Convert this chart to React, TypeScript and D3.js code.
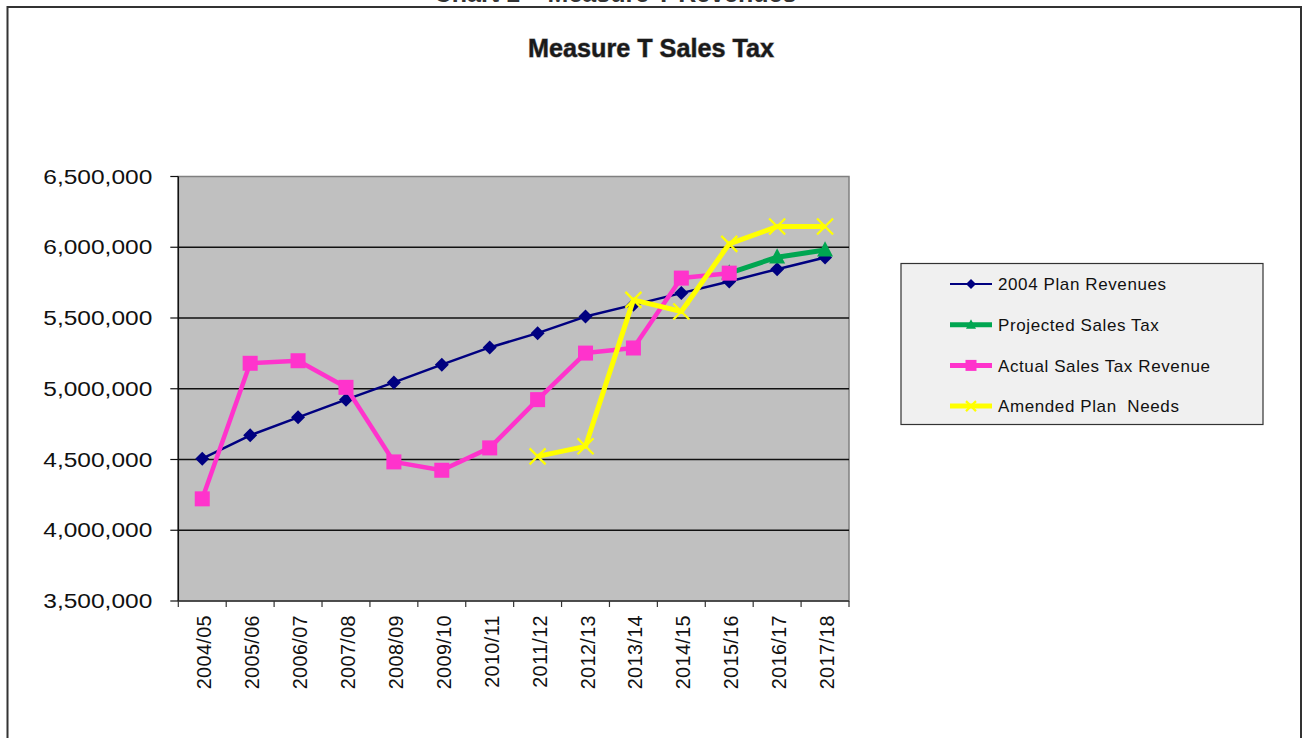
import * as d3 from "d3";

const categories = [
  "2004/05", "2005/06", "2006/07", "2007/08", "2008/09", "2009/10", "2010/11",
  "2011/12", "2012/13", "2013/14", "2014/15", "2015/16", "2016/17", "2017/18",
];

const planRevenues = [
  4506000, 4671000, 4798000, 4923000, 5045000, 5170000, 5292000,
  5393000, 5510000, 5593000, 5676000, 5758000, 5845000, 5927000,
];

const projectedSalesTax: (number | null)[] = [
  null, null, null, null, null, null, null,
  null, null, null, null, 5817000, 5930000, 5980000,
];

const actualRevenue: (number | null)[] = [
  4222000, 5180000, 5198000, 5010000, 4483000, 4424000, 4582000,
  4923000, 5252000, 5288000, 5782000, 5817000, null, null,
];

const amendedNeeds: (number | null)[] = [
  null, null, null, null, null, null, null,
  4522000, 4593000, 5628000, 5546000, 6024000, 6146000, 6146000,
];

const yTicks = [3500000, 4000000, 4500000, 5000000, 5500000, 6000000, 6500000];

const legendItems = [
  { label: "2004 Plan Revenues", color: "#000080", width: 2, marker: "diamond" },
  { label: "Projected Sales Tax", color: "#00a651", width: 5, marker: "triangle" },
  { label: "Actual Sales Tax Revenue", color: "#ff33cc", width: 5, marker: "square" },
  { label: "Amended Plan  Needs", color: "#ffff00", width: 5, marker: "x" },
];

const W = 1304;
const H = 738;
const plot = { left: 178.3, right: 849, top: 176.5, bottom: 601 };

function Marker({ kind, x, y, s, color }: { kind: string; x: number; y: number; s: number; color: string }) {
  if (kind === "diamond") {
    return <path d={`M${x},${y - s}L${x + s},${y}L${x},${y + s}L${x - s},${y}Z`} fill={color} />;
  }
  if (kind === "square") {
    return <rect x={x - s} y={y - s} width={s * 2} height={s * 2} fill={color} />;
  }
  if (kind === "triangle") {
    return <path d={`M${x},${y - s * 1.1}L${x + s},${y + s * 0.8}L${x - s},${y + s * 0.8}Z`} fill={color} />;
  }
  return (
    <path
      d={`M${x - s},${y - s}L${x + s},${y + s}M${x - s},${y + s}L${x + s},${y - s}`}
      stroke={color}
      strokeWidth={2.2}
      fill="none"
    />
  );
}

export default function App() {
  const x = d3.scaleBand<string>().domain(categories).range([plot.left, plot.right]);
  const y = d3.scaleLinear().domain([3500000, 6500000]).range([plot.bottom, plot.top]);
  const cx = (c: string) => (x(c) ?? 0) + x.bandwidth() / 2;

  const line = d3
    .line<number | null>()
    .defined((d) => d != null)
    .x((_, i) => cx(categories[i]))
    .y((d) => y(d as number));

  const series = [
    { values: planRevenues as (number | null)[], color: "#000080", width: 2.5, marker: "diamond", size: 7 },
    { values: projectedSalesTax, color: "#00a651", width: 5, marker: "triangle", size: 8 },
    { values: actualRevenue, color: "#ff33cc", width: 4.5, marker: "square", size: 7.5 },
    { values: amendedNeeds, color: "#ffff00", width: 5, marker: "x", size: 8 },
  ];

  const font = "Arial, 'Liberation Sans', sans-serif";
  const boundaries = d3.range(categories.length + 1).map((i) => plot.left + i * x.bandwidth());

  return (
    <div style={{ position: "fixed", left: 0, top: 0, width: W, height: H, background: "#fff" }}>
      <svg width={W} height={H} style={{ display: "block" }} fontFamily={font}>
        {/* outer frame and the heading above it, cut off by the page edge */}
        <text x={615} y={2.2} textAnchor="middle" fontSize={25} fontWeight="bold" fill="#333">
          Chart 1 – Measure T Revenues
        </text>
        <rect x={7.5} y={7} width={1293.5} height={760} fill="#fff" stroke="#333" strokeWidth={2} />

        <text
          x={651}
          y={57}
          textAnchor="middle"
          fontSize={25.2}
          fontWeight="bold"
          fill="#1a1a1a"
          stroke="#8a8a8a"
          strokeWidth={0.9}
          paintOrder="stroke"
        >
          Measure T Sales Tax
        </text>

        {/* plot area */}
        <rect
          x={plot.left}
          y={plot.top}
          width={plot.right - plot.left}
          height={plot.bottom - plot.top}
          fill="#c0c0c0"
          stroke="#808080"
          strokeWidth={1.5}
        />
        {yTicks.map((t) => (
          <g key={t}>
            {t > 3500000 && t < 6500000 && (
              <line x1={plot.left} x2={plot.right} y1={y(t)} y2={y(t)} stroke="#111" strokeWidth={1.5} />
            )}
            <line x1={plot.left - 8} x2={plot.left} y1={y(t)} y2={y(t)} stroke="#111" strokeWidth={1.2} />
            <text
              x={plot.left - 135}
              y={y(t)}
              dy="0.36em"
              fontSize={20}
              fill="#111"
              textLength={109}
              lengthAdjust="spacingAndGlyphs"
            >
              {d3.format(",")(t)}
            </text>
          </g>
        ))}
        <line x1={plot.left} x2={plot.left} y1={plot.top} y2={plot.bottom} stroke="#111" strokeWidth={1.5} />
        <line x1={plot.left} x2={plot.right} y1={plot.bottom} y2={plot.bottom} stroke="#333" strokeWidth={1.5} />
        {boundaries.map((b, i) => (
          <line key={i} x1={b} x2={b} y1={plot.bottom} y2={plot.bottom + 6} stroke="#333" strokeWidth={1.2} />
        ))}
        {categories.map((c) => (
          <text
            key={c}
            transform={`translate(${cx(c) + 2},615) rotate(-90)`}
            textAnchor="end"
            dominantBaseline="central"
            fontSize={19.8}
            letterSpacing={0.4}
            fill="#111"
          >
            {c}
          </text>
        ))}

        {/* series */}
        {series.map((s, si) => (
          <g key={si}>
            <path d={line(s.values) ?? ""} fill="none" stroke={s.color} strokeWidth={s.width} strokeLinejoin="round" />
            {s.values.map((v, i) =>
              v == null ? null : (
                <Marker key={i} kind={s.marker} x={cx(categories[i])} y={y(v)} s={s.size} color={s.color} />
              )
            )}
          </g>
        ))}

        {/* legend */}
        <rect x={901} y={263.5} width={362} height={161} fill="#f0f0f0" stroke="#333" strokeWidth={1.2} />
        {legendItems.map((it, i) => {
          const ly = 284 + i * 40.7;
          return (
            <g key={it.label}>
              <line x1={950} x2={992} y1={ly} y2={ly} stroke={it.color} strokeWidth={it.width} />
              <Marker kind={it.marker} x={971} y={ly} s={it.marker === "square" ? 5.5 : 5} color={it.color} />
              <text
                x={998}
                y={ly}
                dy="0.36em"
                fontSize={17}
                letterSpacing={0.6}
                fill="#111"
                style={{ whiteSpace: "pre" }}
              >
                {it.label}
              </text>
            </g>
          );
        })}
      </svg>
    </div>
  );
}
